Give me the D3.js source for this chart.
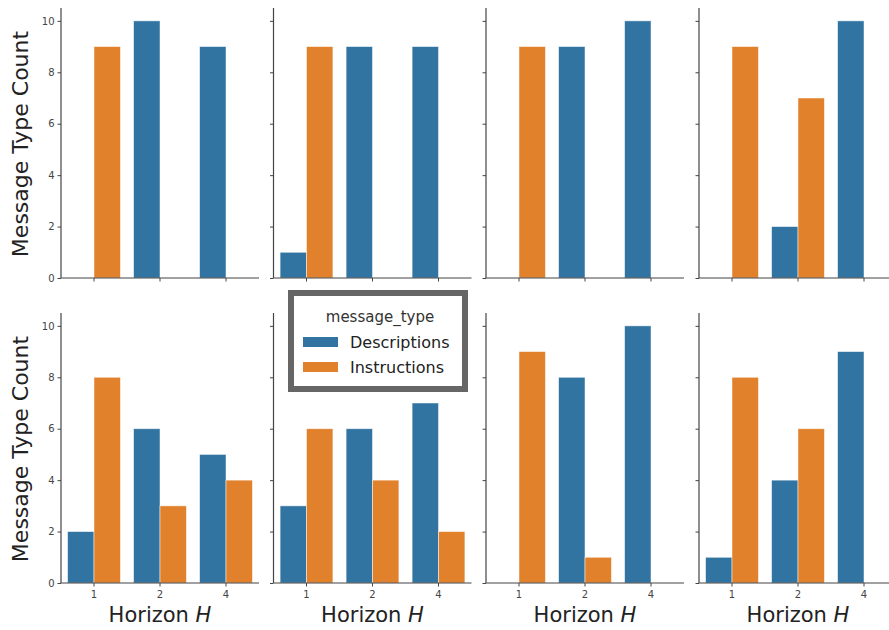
<!DOCTYPE html>
<html><head><meta charset="utf-8">
<script src="https://cdn.jsdelivr.net/npm/d3@7"></script>
<style>body{margin:0;background:#fff;font-family:"DejaVu Sans",sans-serif;}</style>
</head><body>
<script>
const horizons = ["1","2","4"];
const messageTypes = ["Descriptions","Instructions"];
const colors = ["#3274a1","#e1812c"];
const yTicks = [0,2,4,6,8,10];
// panel values: [Descriptions per horizon], [Instructions per horizon]
const descriptions = [
  [0,10,9],[1,9,9],[0,9,10],[0,2,10],
  [2,6,5],[3,6,7],[0,8,10],[1,4,9]
];
const instructions = [
  [9,0,0],[9,0,0],[9,0,0],[9,7,0],
  [8,3,4],[6,4,2],[9,1,0],[8,6,0]
];

const W=889,H=630;
const svg=d3.select("body").append("svg").attr("width",W).attr("height",H);
const panelX=[61,273.5,486,699], pw=198;
const rowZero=[278,583], ph=270;
const axisColor="#444";

for(let p=0;p<8;p++){
  const r=Math.floor(p/4), c=p%4;
  const g=svg.append("g").attr("transform",`translate(${panelX[c]},${rowZero[r]-ph})`);
  const xo=d3.scaleBand().domain(horizons).range([0,pw]);
  const y=d3.scaleLinear().domain([0,10.5]).range([ph,0]);
  const bw=xo.bandwidth()*0.8/2;
  const data=[];
  horizons.forEach((h,i)=>{
    data.push({h,t:0,v:descriptions[p][i]});
    data.push({h,t:1,v:instructions[p][i]});
  });
  g.selectAll("rect").data(data.filter(d=>d.v>0)).join("rect")
    .attr("x",d=>xo(d.h)+xo.bandwidth()/2-bw+d.t*bw)
    .attr("width",bw)
    .attr("y",d=>y(d.v)).attr("height",d=>ph-y(d.v))
    .attr("fill",d=>colors[d.t]).attr("stroke","#fff").attr("stroke-opacity",0.6).attr("stroke-width",0.8);
  const ya=d3.axisLeft(y).tickValues(yTicks).tickSize(3.5).tickPadding(3);
  if(c>0) ya.tickFormat("");
  const yg=g.append("g").call(ya);
  const xa=d3.axisBottom(xo).tickSize(3.5).tickPadding(4);
  if(r===0) xa.tickFormat("");
  const xg=g.append("g").attr("transform",`translate(0,${ph})`).call(xa);
  [yg,xg].forEach(a=>{
    a.select(".domain").attr("stroke",axisColor).attr("stroke-width",1.2);
    a.selectAll(".tick line").attr("stroke",axisColor).attr("stroke-width",1);
    a.selectAll("text").attr("fill","#444").style("font-size","10px").style("font-family","DejaVu Sans");
  });
  xg.select(".domain").attr("d",`M0,0H${pw}`);
  yg.select(".domain").attr("d",`M0,${ph}V0`);
  if(c===0){
    svg.append("text").attr("transform",`translate(28,${rowZero[r]-ph/2+1}) rotate(-90)`)
      .attr("text-anchor","middle").style("font-size","22px").attr("fill","#222").text("Message Type Count");
  }
  if(r===1){
    const t=svg.append("text").attr("x",panelX[c]+pw/2).attr("y",622).attr("text-anchor","middle")
      .style("font-size","21px").attr("fill","#222");
    t.append("tspan").text("Horizon ");
    t.append("tspan").style("font-style","italic").text("H");
  }
}

// legend
const lg=svg.append("g");
lg.append("rect").attr("x",291).attr("y",293).attr("width",174).attr("height",96)
  .attr("fill","#fff").attr("stroke","#666").attr("stroke-width",6);
lg.append("text").attr("x",380).attr("y",322).attr("text-anchor","middle").style("font-size","15px").attr("fill","#333").text("message_type");
messageTypes.forEach((m,i)=>{
  lg.append("rect").attr("x",303).attr("y",337+i*25).attr("width",35).attr("height",10).attr("fill",colors[i]);
  lg.append("text").attr("x",350).attr("y",348+i*25).style("font-size","16px").attr("fill","#222").text(m);
});
</script>
</body></html>
